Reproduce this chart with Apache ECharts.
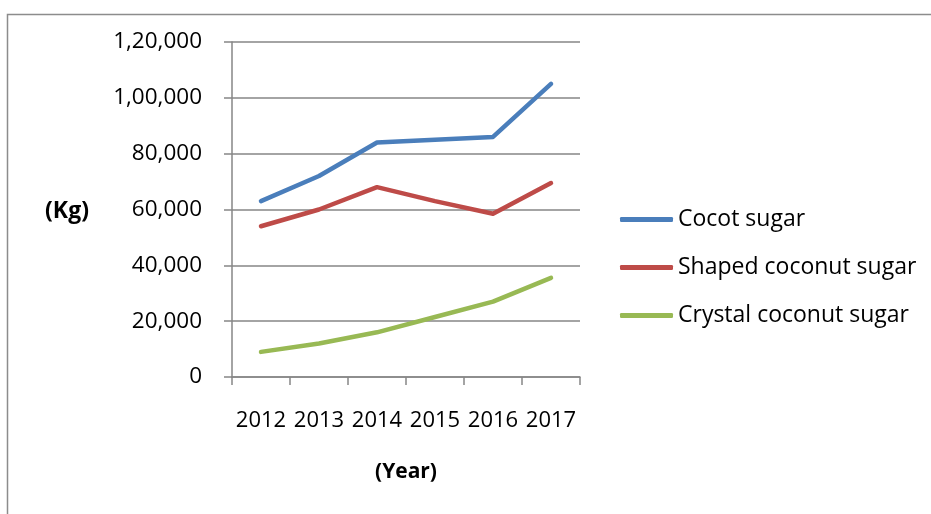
<!DOCTYPE html>
<html>
<head>
<meta charset="utf-8">
<script src="https://cdn.jsdelivr.net/npm/echarts@6/dist/echarts.min.js"></script>
<style>
html,body{margin:0;padding:0;background:#fff;}
#chart{width:931px;height:514px;}
</style>
</head>
<body>
<div id="chart"></div>
<script>
var years = ['2012', '2013', '2014', '2015', '2016', '2017'];
var cocotSugar = [63000, 72000, 84000, 85000, 86000, 105000];
var shapedCoconutSugar = [54000, 60000, 68000, 63000, 58500, 69500];
var crystalCoconutSugar = [9000, 12000, 16000, 21500, 27000, 35500];
var seriesNames = ['Cocot sugar', 'Shaped coconut sugar', 'Crystal coconut sugar'];
var yTickLabels = ['0', '20,000', '40,000', '60,000', '80,000', '1,00,000', '1,20,000'];
var yAxisTitle = '(Kg)';
var xAxisTitle = '(Year)';

var FONT = '"Open Sans", "Liberation Sans", sans-serif';
var colors = ['#4A7EBB', '#BE4B48', '#98B954'];
var gridColor = '#868686';

var chart = echarts.init(document.getElementById('chart'), null, {renderer: 'canvas'});

function mkSeries(name, data, color) {
  return {
    name: name,
    type: 'line',
    data: data,
    symbol: 'none',
    color: color,
    lineStyle: {color: color, width: 4.5, cap: 'round', join: 'round'},
    itemStyle: {color: color},
    animation: false
  };
}

var option = {
  animation: false,
  backgroundColor: '#ffffff',
  grid: {left: 232, right: 351, top: 42, bottom: 137, containLabel: false},
  legend: {
    orient: 'vertical',
    left: 620,
    top: 207,
    padding: 0,
    itemWidth: 53,
    itemHeight: 5,
    itemGap: 23,
    icon: 'roundRect',
    data: seriesNames,
    textStyle: {fontFamily: FONT, fontSize: 23, color: '#000', lineHeight: 25}
  },
  xAxis: {
    type: 'category',
    data: years,
    boundaryGap: true,
    axisLine: {lineStyle: {color: gridColor, width: 1.5}},
    axisTick: {show: true, length: 8, lineStyle: {color: gridColor, width: 1.5}},
    axisLabel: {fontFamily: FONT, fontSize: 22, color: '#000', margin: 33, lineHeight: 22, interval: 0},
    splitLine: {show: false}
  },
  yAxis: {
    type: 'value',
    min: 0,
    max: 120000,
    interval: 20000,
    axisLine: {show: true, lineStyle: {color: gridColor, width: 1.5}},
    axisTick: {show: true, length: 8, lineStyle: {color: gridColor, width: 1.5}},
    axisLabel: {
      fontFamily: FONT, fontSize: 22.5, color: '#000', margin: 30,
      formatter: function (v) { return yTickLabels[Math.round(v / 20000)]; }
    },
    splitLine: {show: true, lineStyle: {color: gridColor, width: 1.5}}
  },
  series: [
    mkSeries(seriesNames[0], cocotSugar, colors[0]),
    mkSeries(seriesNames[1], shapedCoconutSugar, colors[1]),
    mkSeries(seriesNames[2], crystalCoconutSugar, colors[2])
  ],
  graphic: [
    {type: 'rect', left: 5, top: 12, silent: true, z: -1,
     shape: {width: 960, height: 540},
     style: {fill: 'none', stroke: '#8c8c8c', lineWidth: 1.5}},
    {type: 'text', x: 67, y: 211, silent: true,
     style: {text: yAxisTitle, font: 'bold 23px ' + FONT, fill: '#000', textAlign: 'center', textVerticalAlign: 'middle'}},
    {type: 'text', x: 406, y: 472, silent: true,
     style: {text: xAxisTitle, font: 'bold 21px ' + FONT, fill: '#000', textAlign: 'center', textVerticalAlign: 'middle'}}
  ]
};
chart.setOption(option);
</script>
</body>
</html>
